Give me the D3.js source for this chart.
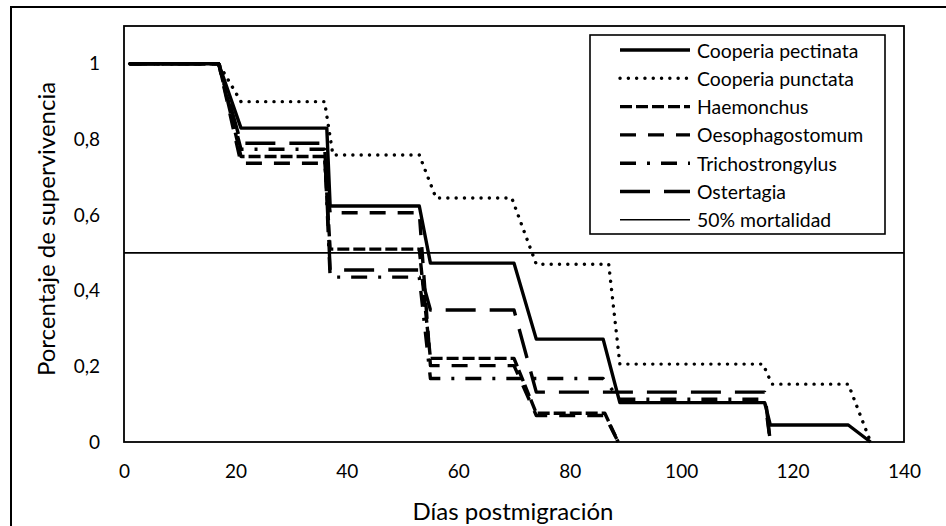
<!DOCTYPE html>
<html>
<head>
<meta charset="utf-8">
<script src="https://cdn.jsdelivr.net/npm/d3@7"></script>
<style>
  html, body { margin: 0; padding: 0; background: #fff; }
  svg { display: block; }
  text { font-family: Lato, "Open Sans", sans-serif; fill: #000; }
</style>
</head>
<body>
<svg id="chart" width="946" height="526"></svg>
<script>
// Survival curves per nematode genus: [day post-migration, survival fraction]
const cooperiaPectinata = [[1,1],[17,1],[21,0.83],[36.4,0.83],[37,0.624],[53,0.624],[55,0.473],[70,0.473],[74,0.272],[86,0.272],[89,0.104],[115,0.104],[116,0.045],[130,0.045],[134,0]];
const cooperiaPunctata  = [[1,1],[17,1],[21,0.90],[36,0.90],[37.5,0.759],[53,0.759],[56,0.645],[69.6,0.645],[74,0.47],[87,0.47],[89,0.206],[114.7,0.206],[116.3,0.153],[130,0.153],[134,0]];
const haemonchus        = [[1,1],[17,1],[21,0.755],[36,0.755],[37,0.51],[53,0.51],[55,0.221],[70,0.221],[74,0.076],[86.3,0.076],[88.7,0]];
const oesophagostomum   = [[1,1],[17,1],[21,0.737],[36,0.737],[37,0.606],[53,0.606],[55,0.202],[70,0.202],[74,0.07],[86.3,0.07],[88.7,0]];
const trichostrongylus  = [[1,1],[17,1],[21,0.774],[36,0.774],[37,0.436],[53,0.436],[55,0.168],[86,0.168],[89,0.113],[115,0.113],[116,0]];
const ostertagia        = [[1,1],[17,1],[21,0.79],[36,0.79],[37,0.455],[53,0.455],[55,0.349],[70,0.349],[74,0.132],[115,0.132],[116,0]];

const seriesNames = ["Cooperia pectinata","Cooperia punctata","Haemonchus","Oesophagostomum","Trichostrongylus","Ostertagia"];
const seriesData  = [cooperiaPectinata, cooperiaPunctata, haemonchus, oesophagostomum, trichostrongylus, ostertagia];
const mortalityName = "50% mortalidad";
const mortalityLevel = 0.5;

const xTicks = [0,20,40,60,80,100,120,140];
const yTicks = [0,0.2,0.4,0.6,0.8,1];
const xTitle = "Días postmigración";
const yTitle = "Porcentaje de supervivencia";

// line styles for each genus
const styles = [
  { w: 3.4, dash: null,          cap: "butt" },
  { w: 3.4, dash: "0.1 8.2",     cap: "round" },
  { w: 3.4, dash: "12 4",        cap: "butt" },
  { w: 3.4, dash: "16 12",       cap: "butt" },
  { w: 3.4, dash: "16 11 3 11",  cap: "butt" },
  { w: 3.4, dash: "30 14",       cap: "butt" }
];

const svg = d3.select("#chart");
const plot = { left: 124, right: 904, top: 26, bottom: 442 };

const x = d3.scaleLinear().domain([0, 140]).range([plot.left, plot.right]);
const y = d3.scaleLinear().domain([0, 1.1]).range([plot.bottom, plot.top]);

// outer frame (left and top edges visible)
svg.append("rect")
  .attr("x", 11).attr("y", 7).attr("width", 1000).attr("height", 600)
  .attr("fill", "none").attr("stroke", "#000").attr("stroke-width", 2);

// plot area box
svg.append("rect")
  .attr("x", plot.left).attr("y", plot.top)
  .attr("width", plot.right - plot.left).attr("height", plot.bottom - plot.top)
  .attr("fill", "none").attr("stroke", "#000").attr("stroke-width", 1.8);

// axes (labels only, no tick marks)
const fmt = d => d3.format(".1~f")(d).replace(".", ",");
const xAxis = svg.append("g").attr("transform", `translate(0,${plot.bottom})`)
  .call(d3.axisBottom(x).tickValues(xTicks).tickSize(0).tickPadding(23).tickFormat(d3.format("d")));
const yAxis = svg.append("g").attr("transform", `translate(${plot.left},0)`)
  .call(d3.axisLeft(y).tickValues(yTicks).tickSize(0).tickPadding(24).tickFormat(fmt));
[xAxis, yAxis].forEach(g => {
  g.select(".domain").remove();
  g.selectAll("text").style("font-size", "19px").style("font-family", "Lato, sans-serif");
});

// axis titles
svg.append("text")
  .attr("x", 513).attr("y", 520)
  .attr("text-anchor", "middle")
  .style("font-size", "24px")
  .text(xTitle);
svg.append("text")
  .attr("transform", `translate(55,229) rotate(-90)`)
  .attr("text-anchor", "middle")
  .style("font-size", "24px")
  .text(yTitle);

// 50% mortality reference line
svg.append("line")
  .attr("x1", plot.left).attr("x2", plot.right)
  .attr("y1", y(mortalityLevel)).attr("y2", y(mortalityLevel))
  .attr("stroke", "#000").attr("stroke-width", 1.6);

// survival curves
const line = d3.line().x(d => x(d[0])).y(d => y(d[1]));
seriesData.forEach((data, i) => {
  const s = styles[i];
  svg.append("path")
    .datum(data)
    .attr("d", line)
    .attr("fill", "none")
    .attr("stroke", "#000")
    .attr("stroke-width", s.w)
    .attr("stroke-linecap", s.cap)
    .attr("stroke-linejoin", "round")
    .attr("stroke-dasharray", s.dash);
});

// legend
const legend = svg.append("g");
legend.append("rect")
  .attr("x", 590).attr("y", 35).attr("width", 295).attr("height", 199)
  .attr("fill", "#fff").attr("stroke", "#000").attr("stroke-width", 1.6);
const legendItems = seriesNames.map((n, i) => ({ name: n, style: styles[i] }))
  .concat([{ name: mortalityName, style: { w: 1.6, dash: null, cap: "butt" } }]);
legendItems.forEach((item, i) => {
  const ly = 50 + i * 28.3;
  legend.append("line")
    .attr("x1", 620).attr("x2", 690).attr("y1", ly).attr("y2", ly)
    .attr("stroke", "#000")
    .attr("stroke-width", item.style.w)
    .attr("stroke-linecap", item.style.cap)
    .attr("stroke-dasharray", item.style.dash);
  legend.append("text")
    .attr("x", 697).attr("y", ly)
    .attr("dominant-baseline", "central")
    .style("font-size", "19.4px")
    .text(item.name);
});
</script>
</body>
</html>
